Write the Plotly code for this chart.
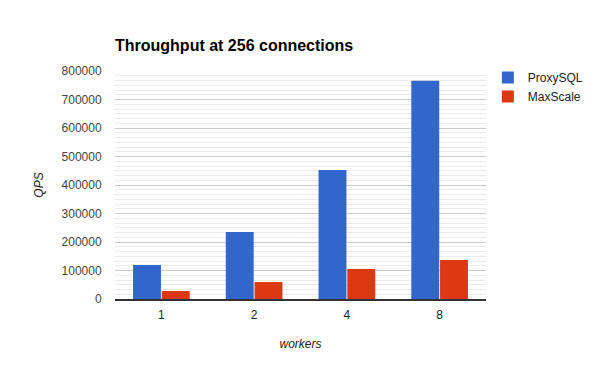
import plotly.graph_objects as go

workers = ["1", "2", "4", "8"]
proxysql = [119500, 235500, 453000, 766000]
maxscale = [28000, 59500, 105500, 137000]
y_ticks = [0, 100000, 200000, 300000, 400000, 500000, 600000, 700000, 800000]

FONT = "Liberation Sans, Arial, sans-serif"

fig = go.Figure()
fig.add_trace(go.Bar(name="ProxySQL", x=workers, y=proxysql, marker=dict(color="#3366cc", line=dict(width=0))))
fig.add_trace(go.Bar(name="MaxScale", x=workers, y=maxscale, marker=dict(color="#dc3912", line=dict(width=0))))

fig.update_layout(
    width=600, height=371,
    margin=dict(l=115, r=114, t=71, b=72, autoexpand=False),
    paper_bgcolor="white", plot_bgcolor="white",
    font=dict(family=FONT, size=12, color="#444444"),
    title=dict(text="<b>Throughput at 256 connections</b>", x=115/600, xanchor="left",
               y=1-45/371, yanchor="middle", font=dict(size=16, color="#000000", family=FONT)),
    barmode="group", bargap=0.38, bargroupgap=0.03,
    showlegend=True,
    legend=dict(x=1.005, xanchor="left", y=1.035, yanchor="top", font=dict(size=12, color="#222222"),
                bgcolor="rgba(0,0,0,0)", tracegroupgap=0, itemwidth=30),
)
fig.update_xaxes(
    type="category", showgrid=False, showline=True, linecolor="#333333", linewidth=1.5,
    ticks="outside", ticklen=4, tickcolor="rgba(0,0,0,0)",
    tickfont=dict(size=12, color="#222222"),
    title=dict(text="<i>workers</i>", font=dict(size=12, color="#222222"), standoff=18),
    automargin=False,
)
fig.update_yaxes(
    range=[0, 800000], tickvals=y_ticks, ticktext=[str(v) for v in y_ticks],
    showgrid=True, gridcolor="#cccccc", gridwidth=1,
    minor=dict(dtick=100000/6, showgrid=True, gridcolor="#ebebeb", gridwidth=1, tick0=0),
    zeroline=False, showline=False,
    ticks="outside", ticklen=10, tickcolor="rgba(0,0,0,0)",
    tickfont=dict(size=12, color="#444444"),
    title=dict(text="<i>QPS</i>", font=dict(size=12, color="#222222"), standoff=15),
    automargin=False,
)

fig.write_html("out.html")
